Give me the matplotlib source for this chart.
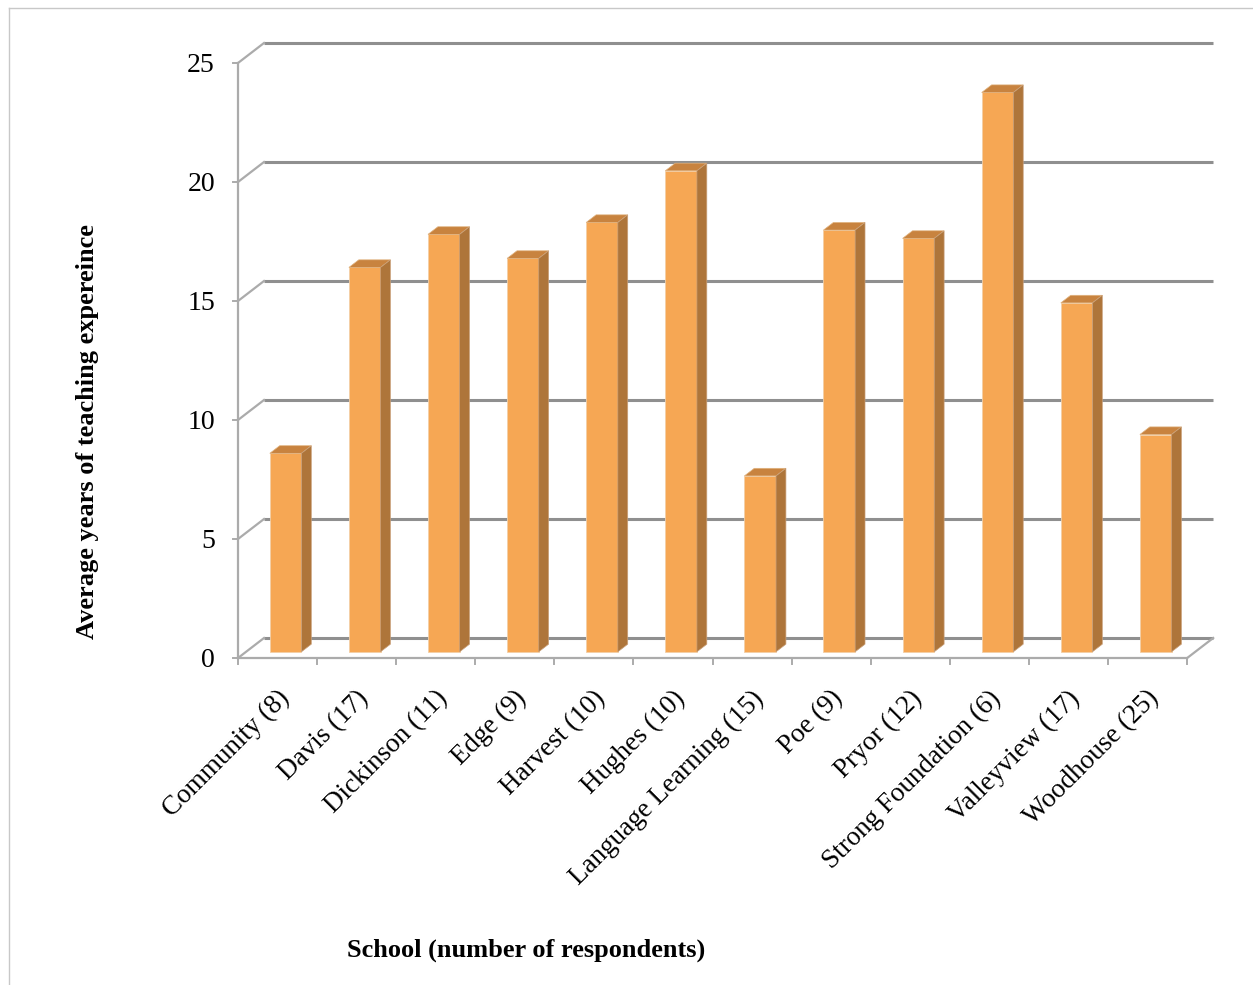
import matplotlib.pyplot as plt
from matplotlib.patches import Polygon
from matplotlib.lines import Line2D

# average years of teaching experience per school
schools = ['Community (8)', 'Davis (17)', 'Dickinson (11)', 'Edge (9)', 'Harvest (10)',
           'Hughes (10)', 'Language Learning (15)', 'Poe (9)', 'Pryor (12)',
           'Strong Foundation (6)', 'Valleyview (17)', 'Woodhouse (25)']
years = [8.34, 16.15, 17.54, 16.53, 18.04, 20.21, 7.39, 17.72, 17.37, 23.50, 14.66, 9.13]
yticks = [0, 5, 10, 15, 20, 25]

# pseudo-3d layout: one category = 1 x unit, one year = 1 y unit
px_x, px_y = 79.1, 23.8          # pixels per unit
x0_px, y0_px = 238, 658          # front-left floor corner
DX, DY = 26 / px_x, 20 / px_y    # depth of the back wall
t0, bd = 0.31, 0.38              # bar front depth and bar thickness (fractions of DX/DY)
bw = 0.4

front = '#F6A754'
side = '#AE753A'
top = '#C8833F'
grid = '#8f8f8f'
light = '#ababab'

plt.rcParams['font.family'] = ['Liberation Serif', 'DejaVu Serif']

fig = plt.figure(figsize=(12.53, 9.85), dpi=100)
ax = fig.add_axes([0, 0, 1, 1])
ax.set_xlim(-x0_px / px_x, (1253 - x0_px) / px_x)
ax.set_ylim(-(985 - y0_px) / px_y, y0_px / px_y)
ax.axis('off')

n = len(schools)

# back wall gridlines, left wall diagonals and value ticks
for v in yticks:
    ax.plot([DX, n + DX], [v + DY, v + DY], color=grid, lw=2.2, zorder=1, solid_capstyle='butt')
    ax.plot([0, DX], [v, v + DY], color=light, lw=1.6, zorder=1)
    ax.plot([-5 / px_x, 0], [v, v], color=light, lw=1.4, zorder=1)
    ax.text(-23 / px_x, v - 0.1, str(v), ha='right', va='center', fontsize=20)
ax.plot([0, 0], [0, yticks[-1]], color=light, lw=1.6, zorder=1)

# floor front edge, right edge and category ticks
ax.plot([0, n], [0, 0], color=light, lw=1.6, zorder=1)
ax.plot([n, n + DX], [0, DY], color=light, lw=1.6, zorder=1)
for i in range(n + 1):
    ax.plot([i, i], [0, -6 / px_y], color=light, lw=1.4, zorder=1)

# bars: front faces through ax.bar, then top and side faces
yb = t0 * DY
xl = [i + (1 - bw) / 2 + t0 * DX for i in range(n)]
ax.bar(xl, years, width=bw, bottom=yb, align='edge', color=front,
       edgecolor='#f3cfa6', linewidth=0.6, zorder=3)
bdx, bdy = bd * DX, bd * DY
for x, v in zip(xl, years):
    ax.add_patch(Polygon([(x, yb + v), (x + bw, yb + v), (x + bw + bdx, yb + v + bdy),
                          (x + bdx, yb + v + bdy)], closed=True, facecolor=top,
                         edgecolor='#e0b27e', linewidth=0.5, zorder=3))
    ax.add_patch(Polygon([(x + bw, yb), (x + bw + bdx, yb + bdy), (x + bw + bdx, yb + v + bdy),
                          (x + bw, yb + v)], closed=True, facecolor=side,
                         edgecolor='#c9a07a', linewidth=0.5, zorder=3))

# rotated category labels
for i, name in enumerate(schools):
    ax.text(i + 0.6, -1.55, name, rotation=45, rotation_mode='anchor',
            ha='right', va='center', fontsize=19.5)

# axis titles
ax.text(-151 / px_x, 9.5, 'Average years of teaching expereince', rotation=90,
        ha='center', va='center', fontsize=19, fontweight='bold')
ax.text(526 / px_x - x0_px / px_x, -(950 - y0_px) / px_y, 'School (number of respondents)',
        ha='center', va='center', fontsize=19, fontweight='bold')

# chart area border (top and left edges)
fig.add_artist(Line2D([9 / 1253, 1], [1 - 8 / 985, 1 - 8 / 985], color='#c8c8c8', lw=1))
fig.add_artist(Line2D([9 / 1253, 9 / 1253], [0, 1 - 8 / 985], color='#c8c8c8', lw=1))

fig.savefig('out.png', dpi=100)
